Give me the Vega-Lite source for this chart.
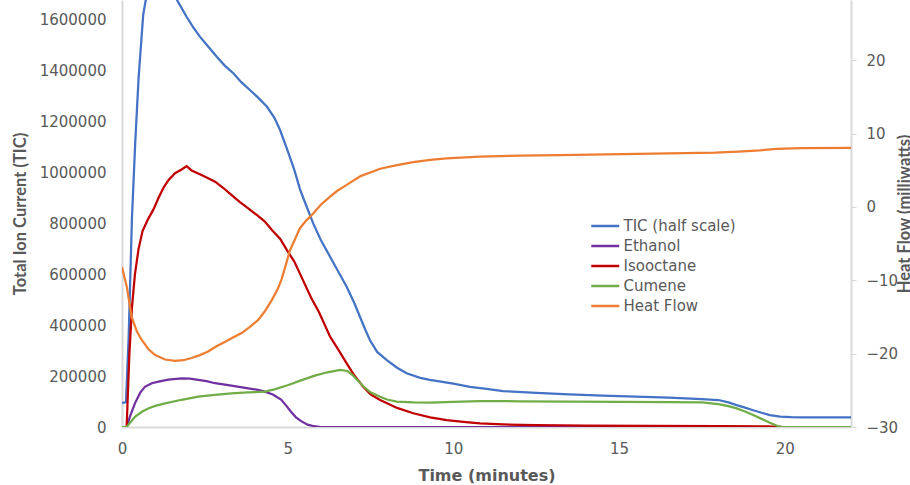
{
  "$schema": "https://vega.github.io/schema/vega-lite/v6.json",
  "width": 729,
  "height": 427,
  "autosize": {"type": "none"},
  "padding": {"left": 122, "top": 0, "right": 59, "bottom": 58},
  "background": "white",
  "config": {
    "view": {"stroke": null},
    "font": "DejaVu Sans",
    "axis": {
      "grid": false,
      "domainColor": "#D9D9D9",
      "domainWidth": 2,
      "labelFont": "DejaVu Sans",
      "labelFontSize": 15,
      "labelColor": "#595959",
      "titleFont": "Lato",
      "titleFontSize": 16.5,
      "titleFontWeight": "bold",
      "titleColor": "#595959"
    },
    "legend": {
      "orient": "none",
      "legendX": 475.75,
      "legendY": 218.5,
      "title": null,
      "labelFont": "DejaVu Sans",
      "labelFontSize": 15,
      "labelColor": "#595959",
      "symbolType": "M-2.8,0H2.8",
      "symbolSize": 100,
      "symbolStrokeWidth": 2.5,
      "labelOffset": 10.75,
      "rowPadding": 4
    }
  },
  "data": {
    "values": [
      {"s": "TIC (half scale)", "t": 0, "v": 95000},
      {"s": "TIC (half scale)", "t": 0.12, "v": 97000},
      {"s": "TIC (half scale)", "t": 0.2, "v": 350000},
      {"s": "TIC (half scale)", "t": 0.3, "v": 820000},
      {"s": "TIC (half scale)", "t": 0.4, "v": 1120000},
      {"s": "TIC (half scale)", "t": 0.5, "v": 1370000},
      {"s": "TIC (half scale)", "t": 0.64, "v": 1620000},
      {"s": "TIC (half scale)", "t": 0.8, "v": 1740000},
      {"s": "TIC (half scale)", "t": 1.0, "v": 1790000},
      {"s": "TIC (half scale)", "t": 1.3, "v": 1770000},
      {"s": "TIC (half scale)", "t": 1.65, "v": 1680000},
      {"s": "TIC (half scale)", "t": 1.95, "v": 1612000},
      {"s": "TIC (half scale)", "t": 2.15, "v": 1570000},
      {"s": "TIC (half scale)", "t": 2.35, "v": 1534000},
      {"s": "TIC (half scale)", "t": 2.6, "v": 1495000},
      {"s": "TIC (half scale)", "t": 2.86, "v": 1455000},
      {"s": "TIC (half scale)", "t": 3.1, "v": 1420000},
      {"s": "TIC (half scale)", "t": 3.36, "v": 1390000},
      {"s": "TIC (half scale)", "t": 3.6, "v": 1355000},
      {"s": "TIC (half scale)", "t": 3.86, "v": 1324000},
      {"s": "TIC (half scale)", "t": 4.1, "v": 1295000},
      {"s": "TIC (half scale)", "t": 4.37, "v": 1259000},
      {"s": "TIC (half scale)", "t": 4.6, "v": 1215000},
      {"s": "TIC (half scale)", "t": 4.77, "v": 1167000},
      {"s": "TIC (half scale)", "t": 5.0, "v": 1085000},
      {"s": "TIC (half scale)", "t": 5.2, "v": 1010000},
      {"s": "TIC (half scale)", "t": 5.37, "v": 935000},
      {"s": "TIC (half scale)", "t": 5.5, "v": 890000},
      {"s": "TIC (half scale)", "t": 5.77, "v": 800000},
      {"s": "TIC (half scale)", "t": 6.0, "v": 735000},
      {"s": "TIC (half scale)", "t": 6.28, "v": 669000},
      {"s": "TIC (half scale)", "t": 6.5, "v": 617000},
      {"s": "TIC (half scale)", "t": 6.78, "v": 551000},
      {"s": "TIC (half scale)", "t": 7.0, "v": 490000},
      {"s": "TIC (half scale)", "t": 7.18, "v": 433000},
      {"s": "TIC (half scale)", "t": 7.35, "v": 380000},
      {"s": "TIC (half scale)", "t": 7.48, "v": 342000},
      {"s": "TIC (half scale)", "t": 7.7, "v": 295000},
      {"s": "TIC (half scale)", "t": 7.99, "v": 263000},
      {"s": "TIC (half scale)", "t": 8.3, "v": 233000},
      {"s": "TIC (half scale)", "t": 8.59, "v": 211000},
      {"s": "TIC (half scale)", "t": 9.0, "v": 193000},
      {"s": "TIC (half scale)", "t": 9.29, "v": 185000},
      {"s": "TIC (half scale)", "t": 10.0, "v": 170000},
      {"s": "TIC (half scale)", "t": 10.5, "v": 158000},
      {"s": "TIC (half scale)", "t": 11.0, "v": 150000},
      {"s": "TIC (half scale)", "t": 11.5, "v": 141000},
      {"s": "TIC (half scale)", "t": 12.5, "v": 134000},
      {"s": "TIC (half scale)", "t": 13.5, "v": 128000},
      {"s": "TIC (half scale)", "t": 14.5, "v": 123000},
      {"s": "TIC (half scale)", "t": 15.5, "v": 119000},
      {"s": "TIC (half scale)", "t": 16.5, "v": 115000},
      {"s": "TIC (half scale)", "t": 17.5, "v": 110000},
      {"s": "TIC (half scale)", "t": 18.0, "v": 106000},
      {"s": "TIC (half scale)", "t": 18.3, "v": 97000},
      {"s": "TIC (half scale)", "t": 18.55, "v": 86000},
      {"s": "TIC (half scale)", "t": 18.8, "v": 76000},
      {"s": "TIC (half scale)", "t": 19.05, "v": 66000},
      {"s": "TIC (half scale)", "t": 19.3, "v": 56000},
      {"s": "TIC (half scale)", "t": 19.55, "v": 47000},
      {"s": "TIC (half scale)", "t": 19.86, "v": 41000},
      {"s": "TIC (half scale)", "t": 20.2, "v": 39000},
      {"s": "TIC (half scale)", "t": 20.56, "v": 38000},
      {"s": "TIC (half scale)", "t": 21.0, "v": 38000},
      {"s": "TIC (half scale)", "t": 21.5, "v": 37500},
      {"s": "TIC (half scale)", "t": 22.0, "v": 38000},

      {"s": "Ethanol", "t": 0, "v": 0},
      {"s": "Ethanol", "t": 0.14, "v": 0},
      {"s": "Ethanol", "t": 0.25, "v": 45000},
      {"s": "Ethanol", "t": 0.39, "v": 93000},
      {"s": "Ethanol", "t": 0.55, "v": 135000},
      {"s": "Ethanol", "t": 0.69, "v": 158000},
      {"s": "Ethanol", "t": 0.9, "v": 172000},
      {"s": "Ethanol", "t": 1.1, "v": 178000},
      {"s": "Ethanol", "t": 1.4, "v": 186000},
      {"s": "Ethanol", "t": 1.8, "v": 191000},
      {"s": "Ethanol", "t": 2.05, "v": 190000},
      {"s": "Ethanol", "t": 2.3, "v": 185000},
      {"s": "Ethanol", "t": 2.55, "v": 180000},
      {"s": "Ethanol", "t": 2.81, "v": 172000},
      {"s": "Ethanol", "t": 3.3, "v": 163000},
      {"s": "Ethanol", "t": 3.81, "v": 152000},
      {"s": "Ethanol", "t": 4.1, "v": 146000},
      {"s": "Ethanol", "t": 4.31, "v": 139000},
      {"s": "Ethanol", "t": 4.55, "v": 128000},
      {"s": "Ethanol", "t": 4.8, "v": 108000},
      {"s": "Ethanol", "t": 4.95, "v": 85000},
      {"s": "Ethanol", "t": 5.1, "v": 60000},
      {"s": "Ethanol", "t": 5.25, "v": 38000},
      {"s": "Ethanol", "t": 5.42, "v": 22000},
      {"s": "Ethanol", "t": 5.6, "v": 9000},
      {"s": "Ethanol", "t": 5.8, "v": 3000},
      {"s": "Ethanol", "t": 6.0, "v": 0},
      {"s": "Ethanol", "t": 22, "v": 0},

      {"s": "Isooctane", "t": 0, "v": 0},
      {"s": "Isooctane", "t": 0.14, "v": 0},
      {"s": "Isooctane", "t": 0.22, "v": 280000},
      {"s": "Isooctane", "t": 0.3, "v": 470000},
      {"s": "Isooctane", "t": 0.39, "v": 600000},
      {"s": "Isooctane", "t": 0.5, "v": 700000},
      {"s": "Isooctane", "t": 0.62, "v": 770000},
      {"s": "Isooctane", "t": 0.78, "v": 815000},
      {"s": "Isooctane", "t": 0.95, "v": 855000},
      {"s": "Isooctane", "t": 1.1, "v": 900000},
      {"s": "Isooctane", "t": 1.25, "v": 940000},
      {"s": "Isooctane", "t": 1.4, "v": 970000},
      {"s": "Isooctane", "t": 1.6, "v": 997000},
      {"s": "Isooctane", "t": 1.8, "v": 1012000},
      {"s": "Isooctane", "t": 1.95, "v": 1025000},
      {"s": "Isooctane", "t": 2.1, "v": 1008000},
      {"s": "Isooctane", "t": 2.4, "v": 990000},
      {"s": "Isooctane", "t": 2.81, "v": 964000},
      {"s": "Isooctane", "t": 3.05, "v": 940000},
      {"s": "Isooctane", "t": 3.31, "v": 911000},
      {"s": "Isooctane", "t": 3.55, "v": 885000},
      {"s": "Isooctane", "t": 3.81, "v": 859000},
      {"s": "Isooctane", "t": 4.05, "v": 835000},
      {"s": "Isooctane", "t": 4.31, "v": 807000},
      {"s": "Isooctane", "t": 4.55, "v": 770000},
      {"s": "Isooctane", "t": 4.77, "v": 740000},
      {"s": "Isooctane", "t": 5.0, "v": 690000},
      {"s": "Isooctane", "t": 5.2, "v": 650000},
      {"s": "Isooctane", "t": 5.45, "v": 580000},
      {"s": "Isooctane", "t": 5.7, "v": 510000},
      {"s": "Isooctane", "t": 5.95, "v": 450000},
      {"s": "Isooctane", "t": 6.28, "v": 355000},
      {"s": "Isooctane", "t": 6.5, "v": 310000},
      {"s": "Isooctane", "t": 6.78, "v": 250000},
      {"s": "Isooctane", "t": 7.0, "v": 205000},
      {"s": "Isooctane", "t": 7.28, "v": 158000},
      {"s": "Isooctane", "t": 7.5, "v": 128000},
      {"s": "Isooctane", "t": 7.79, "v": 106000},
      {"s": "Isooctane", "t": 8.3, "v": 75000},
      {"s": "Isooctane", "t": 8.79, "v": 54000},
      {"s": "Isooctane", "t": 9.3, "v": 38000},
      {"s": "Isooctane", "t": 9.8, "v": 27000},
      {"s": "Isooctane", "t": 10.3, "v": 20000},
      {"s": "Isooctane", "t": 10.8, "v": 14000},
      {"s": "Isooctane", "t": 11.5, "v": 10000},
      {"s": "Isooctane", "t": 12.5, "v": 7000},
      {"s": "Isooctane", "t": 14, "v": 5000},
      {"s": "Isooctane", "t": 16, "v": 4000},
      {"s": "Isooctane", "t": 18, "v": 3000},
      {"s": "Isooctane", "t": 19.5, "v": 2000},
      {"s": "Isooctane", "t": 20, "v": 0},
      {"s": "Isooctane", "t": 22, "v": 0},

      {"s": "Cumene", "t": 0, "v": 0},
      {"s": "Cumene", "t": 0.14, "v": 0},
      {"s": "Cumene", "t": 0.39, "v": 40000},
      {"s": "Cumene", "t": 0.6, "v": 60000},
      {"s": "Cumene", "t": 0.79, "v": 73000},
      {"s": "Cumene", "t": 1.0, "v": 83000},
      {"s": "Cumene", "t": 1.3, "v": 93000},
      {"s": "Cumene", "t": 1.8, "v": 107000},
      {"s": "Cumene", "t": 2.3, "v": 119000},
      {"s": "Cumene", "t": 2.8, "v": 126000},
      {"s": "Cumene", "t": 3.31, "v": 132000},
      {"s": "Cumene", "t": 3.8, "v": 136000},
      {"s": "Cumene", "t": 4.31, "v": 139000},
      {"s": "Cumene", "t": 4.6, "v": 148000},
      {"s": "Cumene", "t": 5.02, "v": 165000},
      {"s": "Cumene", "t": 5.4, "v": 183000},
      {"s": "Cumene", "t": 5.82, "v": 202000},
      {"s": "Cumene", "t": 6.2, "v": 215000},
      {"s": "Cumene", "t": 6.58, "v": 224000},
      {"s": "Cumene", "t": 6.8, "v": 220000},
      {"s": "Cumene", "t": 6.95, "v": 205000},
      {"s": "Cumene", "t": 7.1, "v": 185000},
      {"s": "Cumene", "t": 7.28, "v": 160000},
      {"s": "Cumene", "t": 7.5, "v": 136000},
      {"s": "Cumene", "t": 7.79, "v": 119000},
      {"s": "Cumene", "t": 8.0, "v": 108000},
      {"s": "Cumene", "t": 8.29, "v": 100000},
      {"s": "Cumene", "t": 8.8, "v": 97000},
      {"s": "Cumene", "t": 9.29, "v": 96000},
      {"s": "Cumene", "t": 10.0, "v": 99000},
      {"s": "Cumene", "t": 10.8, "v": 102000},
      {"s": "Cumene", "t": 12, "v": 101000},
      {"s": "Cumene", "t": 13.5, "v": 100000},
      {"s": "Cumene", "t": 15, "v": 99000},
      {"s": "Cumene", "t": 16.5, "v": 98000},
      {"s": "Cumene", "t": 17.5, "v": 97000},
      {"s": "Cumene", "t": 18.0, "v": 90000},
      {"s": "Cumene", "t": 18.3, "v": 82000},
      {"s": "Cumene", "t": 18.55, "v": 73000},
      {"s": "Cumene", "t": 18.8, "v": 61000},
      {"s": "Cumene", "t": 19.05, "v": 47000},
      {"s": "Cumene", "t": 19.3, "v": 32000},
      {"s": "Cumene", "t": 19.55, "v": 17000},
      {"s": "Cumene", "t": 19.75, "v": 6000},
      {"s": "Cumene", "t": 19.9, "v": 0},
      {"s": "Cumene", "t": 22, "v": 0},

      {"s": "Heat Flow", "t": 0, "v": -8.2},
      {"s": "Heat Flow", "t": 0.15, "v": -11.0},
      {"s": "Heat Flow", "t": 0.29, "v": -15.0},
      {"s": "Heat Flow", "t": 0.45, "v": -17.0},
      {"s": "Heat Flow", "t": 0.59, "v": -18.1},
      {"s": "Heat Flow", "t": 0.8, "v": -19.4},
      {"s": "Heat Flow", "t": 1.0, "v": -20.2},
      {"s": "Heat Flow", "t": 1.3, "v": -20.8},
      {"s": "Heat Flow", "t": 1.6, "v": -21.0},
      {"s": "Heat Flow", "t": 1.85, "v": -20.9},
      {"s": "Heat Flow", "t": 2.1, "v": -20.6},
      {"s": "Heat Flow", "t": 2.35, "v": -20.2},
      {"s": "Heat Flow", "t": 2.6, "v": -19.7},
      {"s": "Heat Flow", "t": 2.85, "v": -19.0},
      {"s": "Heat Flow", "t": 3.1, "v": -18.4},
      {"s": "Heat Flow", "t": 3.35, "v": -17.8},
      {"s": "Heat Flow", "t": 3.61, "v": -17.2},
      {"s": "Heat Flow", "t": 3.85, "v": -16.4},
      {"s": "Heat Flow", "t": 4.11, "v": -15.4},
      {"s": "Heat Flow", "t": 4.3, "v": -14.3},
      {"s": "Heat Flow", "t": 4.52, "v": -12.7},
      {"s": "Heat Flow", "t": 4.7, "v": -11.2},
      {"s": "Heat Flow", "t": 4.82, "v": -9.8},
      {"s": "Heat Flow", "t": 4.95, "v": -7.8},
      {"s": "Heat Flow", "t": 5.07, "v": -5.9},
      {"s": "Heat Flow", "t": 5.22, "v": -4.4},
      {"s": "Heat Flow", "t": 5.37, "v": -2.9},
      {"s": "Heat Flow", "t": 5.55, "v": -1.9},
      {"s": "Heat Flow", "t": 5.77, "v": -0.9},
      {"s": "Heat Flow", "t": 6.0, "v": 0.3},
      {"s": "Heat Flow", "t": 6.28, "v": 1.4},
      {"s": "Heat Flow", "t": 6.5, "v": 2.2},
      {"s": "Heat Flow", "t": 6.78, "v": 3.0},
      {"s": "Heat Flow", "t": 7.2, "v": 4.2},
      {"s": "Heat Flow", "t": 7.79, "v": 5.2},
      {"s": "Heat Flow", "t": 8.3, "v": 5.7},
      {"s": "Heat Flow", "t": 8.79, "v": 6.1},
      {"s": "Heat Flow", "t": 9.3, "v": 6.4},
      {"s": "Heat Flow", "t": 9.8, "v": 6.6},
      {"s": "Heat Flow", "t": 10.8, "v": 6.85},
      {"s": "Heat Flow", "t": 12, "v": 7.0},
      {"s": "Heat Flow", "t": 13.2, "v": 7.06},
      {"s": "Heat Flow", "t": 15.1, "v": 7.2},
      {"s": "Heat Flow", "t": 16.5, "v": 7.3},
      {"s": "Heat Flow", "t": 17.9, "v": 7.4},
      {"s": "Heat Flow", "t": 18.6, "v": 7.55},
      {"s": "Heat Flow", "t": 19.25, "v": 7.7},
      {"s": "Heat Flow", "t": 19.75, "v": 7.9},
      {"s": "Heat Flow", "t": 20.5, "v": 8.0},
      {"s": "Heat Flow", "t": 22, "v": 8.05}
    ]
  },
  "encoding": {
    "x": {
      "field": "t",
      "type": "quantitative",
      "scale": {"domain": [0, 22], "nice": false, "zero": false},
      "axis": {
        "title": "Time (minutes)",
        "values": [0, 5, 10, 15, 20],
        "ticks": false,
        "labelFlush": false,
        "labelPadding": 14,
        "titleFont": "DejaVu Sans",
        "titleFontSize": 16,
        "titleY": 48,
        "titleBaseline": "middle"
      }
    },
    "color": {
      "field": "s",
      "type": "nominal",
      "scale": {
        "domain": ["TIC (half scale)", "Ethanol", "Isooctane", "Cumene", "Heat Flow"],
        "range": ["#4472C4", "#7030A0", "#C00000", "#70AD47", "#ED7D31"]
      }
    }
  },
  "layer": [
    {
      "transform": [{"filter": "datum.s !== 'Heat Flow'"}],
      "mark": {"type": "line", "strokeWidth": 2.25, "clip": true},
      "encoding": {
        "y": {
          "field": "v",
          "type": "quantitative",
          "scale": {"domain": [0, 1677800], "nice": false},
          "axis": {
            "orient": "left",
            "title": "Total Ion Current (TIC)",
            "values": [0, 200000, 400000, 600000, 800000, 1000000, 1200000, 1400000, 1600000],
            "format": "d",
            "ticks": false,
            "labelPadding": 16,
            "titleAngle": -90,
            "titleX": -102,
            "titleY": 213.5,
            "titleAlign": "center",
            "titleBaseline": "middle"
          }
        }
      }
    },
    {
      "transform": [{"filter": "datum.s === 'Heat Flow'"}],
      "mark": {"type": "line", "strokeWidth": 2.25, "clip": true},
      "encoding": {
        "y": {
          "field": "v",
          "type": "quantitative",
          "scale": {"domain": [-30, 28.2], "nice": false, "zero": false},
          "axis": {
            "orient": "right",
            "title": "Heat Flow (milliwatts)",
            "values": [-30, -20, -10, 0, 10, 20],
            "ticks": true,
            "tickColor": "#D9D9D9",
            "tickSize": 5,
            "labelPadding": 10,
            "titleAngle": -90,
            "titleX": 53,
            "titleY": 213.5,
            "titleAlign": "center",
            "titleBaseline": "middle"
          }
        }
      }
    }
  ],
  "resolve": {"scale": {"y": "independent"}}
}
